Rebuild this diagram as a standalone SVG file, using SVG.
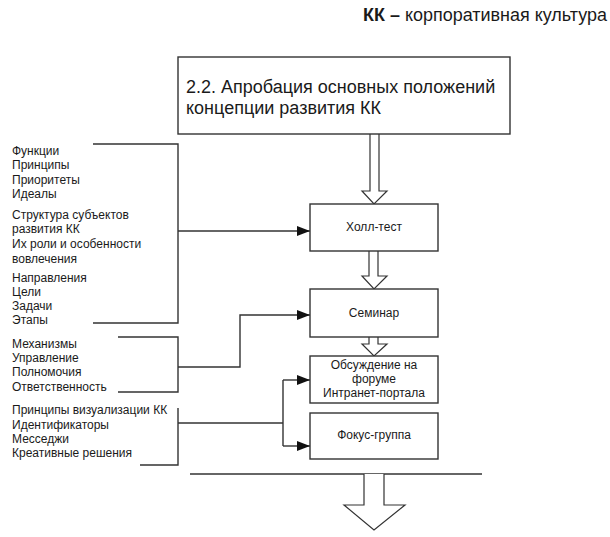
<svg xmlns="http://www.w3.org/2000/svg" width="610" height="537" viewBox="0 0 610 537">
<defs>
<style>
.t{font-family:"Liberation Sans",Arial,sans-serif;fill:#1a1a1a}
.s{font-size:12px}
.b{font-size:12px;text-anchor:middle}
.box{fill:#fff;stroke:#333;stroke-width:1.4}
.ln{fill:none;stroke:#333;stroke-width:1.4}
.ha{fill:#fff;stroke:#333;stroke-width:1.2}
</style>
<marker id="ah" markerWidth="14" markerHeight="10" refX="13" refY="5" orient="auto" markerUnits="userSpaceOnUse">
<path d="M0,0 L13,5 L0,10 Z" fill="#111"/>
</marker>
</defs>
<rect width="610" height="537" fill="#fff"/>
<text class="t" x="363" y="21" style="font-size:17.5px" textLength="244" lengthAdjust="spacingAndGlyphs"><tspan font-weight="bold">КК –</tspan> корпоративная культура</text>

<g id="connectors">
<path class="ha" d="M370,134 V191 H362 L374,204 L387,191 H379 V134"/>
<path class="ha" d="M369,251 V276 H362 L374,289 L387,276 H378 V251"/>
<path class="ha" d="M369,337 V344 H362 L374,356 L387,344 H378 V337"/>
<path class="ln" d="M93,144 H178 V323 H93"/>
<path class="ln" d="M178,231 H310" marker-end="url(#ah)"/>
<path class="ln" d="M118,337 H178 V392 H118"/>
<path class="ln" d="M178,367 H240 V315 H310" marker-end="url(#ah)"/>
<path class="ln" d="M178,408 V465 H140"/>
<path class="ln" d="M178,423 H283"/>
<path class="ln" d="M283,380 V446"/>
<path class="ln" d="M283,380 H310" marker-end="url(#ah)"/>
<path class="ln" d="M283,446 H310" marker-end="url(#ah)"/>
<path class="ln" d="M190,474 H482"/>
<path class="ha" d="M364,474 V505 H344 L374,530 L405,505 H384 V474"/>
</g>

<g id="top">
<rect class="box" x="178" y="57" width="332" height="77"/>
<text class="t" x="186" y="93" style="font-size:18px">2.2. Апробация основных положений</text>
<text class="t" x="186" y="114" style="font-size:18px">концепции развития КК</text>
</g>

<g id="holl">
<rect class="box" x="310" y="204" width="128" height="47"/>
<text class="t b" x="374" y="231">Холл-тест</text>
</g>
<g id="seminar">
<rect class="box" x="310" y="289" width="128" height="48"/>
<text class="t b" x="374" y="317">Семинар</text>
</g>
<g id="forum">
<rect class="box" x="310" y="356" width="128" height="47"/>
<text class="t b" x="374" y="369">Обсуждение на</text>
<text class="t b" x="374" y="383">форуме</text>
<text class="t b" x="374" y="397">Интранет-портала</text>
</g>
<g id="focus">
<rect class="box" x="310" y="413" width="128" height="46"/>
<text class="t b" x="374" y="439">Фокус-группа</text>
</g>

<g id="list1">
<text class="t s" x="12" y="155">Функции</text>
<text class="t s" x="12" y="169">Принципы</text>
<text class="t s" x="12" y="184">Приоритеты</text>
<text class="t s" x="12" y="198">Идеалы</text>
<text class="t s" x="12" y="219">Структура субъектов</text>
<text class="t s" x="12" y="233">развития КК</text>
<text class="t s" x="12" y="248">Их роли и особенности</text>
<text class="t s" x="12" y="263">вовлечения</text>
<text class="t s" x="12" y="282">Направления</text>
<text class="t s" x="12" y="296">Цели</text>
<text class="t s" x="12" y="310">Задачи</text>
<text class="t s" x="12" y="324">Этапы</text>
</g>
<g id="list2">
<text class="t s" x="12" y="348">Механизмы</text>
<text class="t s" x="12" y="362">Управление</text>
<text class="t s" x="12" y="376">Полномочия</text>
<text class="t s" x="12" y="391">Ответственность</text>
</g>
<g id="list3">
<text class="t s" x="12" y="414">Принципы визуализации КК</text>
<text class="t s" x="12" y="429">Идентификаторы</text>
<text class="t s" x="12" y="443">Месседжи</text>
<text class="t s" x="12" y="457">Креативные решения</text>
</g>
</svg>
